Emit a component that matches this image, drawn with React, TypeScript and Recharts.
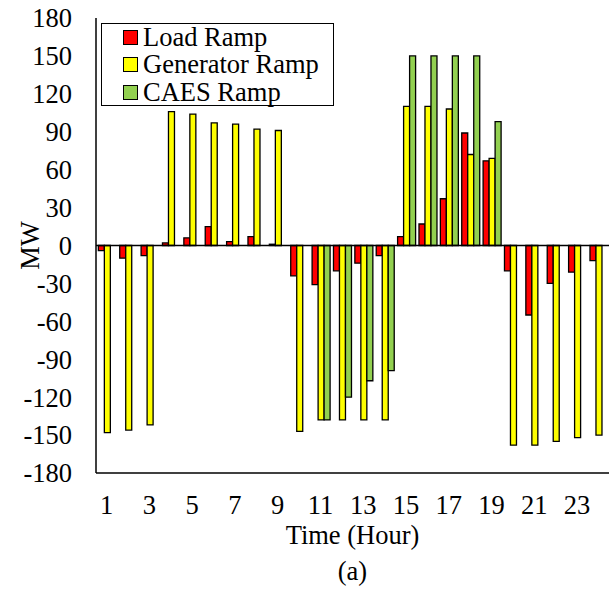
import {
  BarChart,
  Bar,
  XAxis,
  YAxis,
  Legend,
  ReferenceLine,
} from "recharts";

const hours = [
  "1", "2", "3", "4", "5", "6", "7", "8", "9", "10", "11", "12",
  "13", "14", "15", "16", "17", "18", "19", "20", "21", "22", "23", "24",
];

const loadRamp = [
  -4, -10, -8, 2, 6, 15, 3, 7, 1, -24, -31, -20,
  -14, -8, 7, 17, 37, 89, 67, -20, -55, -30, -21, -12,
];

const generatorRamp = [
  -148, -146, -142, 106, 104, 97, 96, 92, 91, -147, -138, -138,
  -138, -138, 110, 110, 108, 72, 69, -158, -158, -155, -152, -150,
];

const caesRamp: (number | null)[] = [
  null, null, null, null, null, null, null, null, null, null, -138, -120,
  -107, -99, 150, 150, 150, 150, 98, null, null, null, null, null,
];

const yTicks = [-180, -150, -120, -90, -60, -30, 0, 30, 60, 90, 120, 150, 180];

const seriesNames = ["Load Ramp", "Generator Ramp", "CAES Ramp"];
const seriesColors = ["#FF0000", "#FFFF00", "#92D050"];

const data = hours.map((h, i) => ({
  hour: h,
  load: loadRamp[i],
  gen: generatorRamp[i],
  caes: caesRamp[i],
}));

const FONT = '"Liberation Serif", "Times New Roman", serif';
const FS = 26.5;

function LegendBox() {
  return (
    <div
      style={{
        width: 233,
        height: 83,
        boxSizing: "border-box",
        border: "1.5px solid #000",
        background: "#fff",
        paddingLeft: 21,
        fontFamily: FONT,
        fontSize: FS,
        lineHeight: "27.3px",
        color: "#000",
        whiteSpace: "nowrap",
      }}
    >
      {seriesNames.map((name, i) => (
        <div key={name} style={{ display: "flex", alignItems: "center", height: 27.3 }}>
          <span
            style={{
              display: "inline-block",
              flex: "none",
              width: 15,
              height: 15,
              boxSizing: "border-box",
              border: "1.5px solid #000",
              background: seriesColors[i],
              marginRight: 5,
            }}
          />
          <span>{name}</span>
        </div>
      ))}
    </div>
  );
}

function XLabel({ viewBox }: { viewBox?: { x: number; y: number; width: number } }) {
  if (!viewBox) return null;
  const cx = viewBox.x + viewBox.width / 2;
  return (
    <g fontFamily={FONT} fontSize={FS} fill="#000">
      <text x={cx} y={viewBox.y + 71} textAnchor="middle">
        Time (Hour)
      </text>
      <text x={cx} y={viewBox.y + 107} textAnchor="middle">
        (a)
      </text>
    </g>
  );
}

function YLabel({ viewBox }: { viewBox?: { y: number; height: number } }) {
  if (!viewBox) return null;
  const cy = viewBox.y + viewBox.height / 2;
  return (
    <text
      x={39}
      y={cy}
      transform={`rotate(-90, 39, ${cy})`}
      textAnchor="middle"
      fontFamily={FONT}
      fontSize={FS}
      fill="#000"
    >
      MW
    </text>
  );
}

export default function App() {
  const tickStyle = { fill: "#000", fontSize: FS, fontFamily: FONT };
  return (
    <div style={{ position: "absolute", left: 0, top: 0, background: "#fff" }}>
      <BarChart
        width={611}
        height={592}
        data={data}
        margin={{ top: 18, right: 2, bottom: 79, left: 0 }}
        barCategoryGap="11%"
        barGap={0}
      >
        <XAxis
          dataKey="hour"
          interval={1}
          height={40}
          tick={tickStyle}
          tickLine={false}
          tickSize={0}
          tickMargin={22}
          axisLine={{ stroke: "#000", strokeWidth: 1.5 }}
          label={<XLabel />}
        />
        <XAxis
          xAxisId="top"
          dataKey="hour"
          orientation="top"
          height={0}
          tick={false}
          tickLine={false}
          axisLine={{ stroke: "#000", strokeWidth: 1.5 }}
        />
        <YAxis
          domain={[-180, 180]}
          ticks={yTicks}
          width={96}
          tick={tickStyle}
          tickLine={false}
          tickSize={0}
          tickMargin={24}
          axisLine={{ stroke: "#000", strokeWidth: 1.5 }}
          label={<YLabel />}
          allowDataOverflow
        />
        <YAxis
          yAxisId="right"
          orientation="right"
          width={0}
          domain={[0, 1]}
          tick={false}
          tickLine={false}
          axisLine={{ stroke: "#000", strokeWidth: 1.5 }}
        />
        <Legend
          layout="vertical"
          align="center"
          verticalAlign="middle"
          wrapperStyle={{ left: 101, top: 23, width: 233, height: 83 }}
          content={<LegendBox />}
        />
        <Bar
          dataKey="load"
          name={seriesNames[0]}
          fill={seriesColors[0]}
          stroke="#000"
          strokeWidth={1.3}
          isAnimationActive={false}
        />
        <Bar
          dataKey="gen"
          name={seriesNames[1]}
          fill={seriesColors[1]}
          stroke="#000"
          strokeWidth={1.3}
          isAnimationActive={false}
        />
        <Bar
          dataKey="caes"
          name={seriesNames[2]}
          fill={seriesColors[2]}
          stroke="#000"
          strokeWidth={1.3}
          isAnimationActive={false}
        />
        <ReferenceLine y={0} stroke="#000" strokeWidth={1.5} />
      </BarChart>
    </div>
  );
}
